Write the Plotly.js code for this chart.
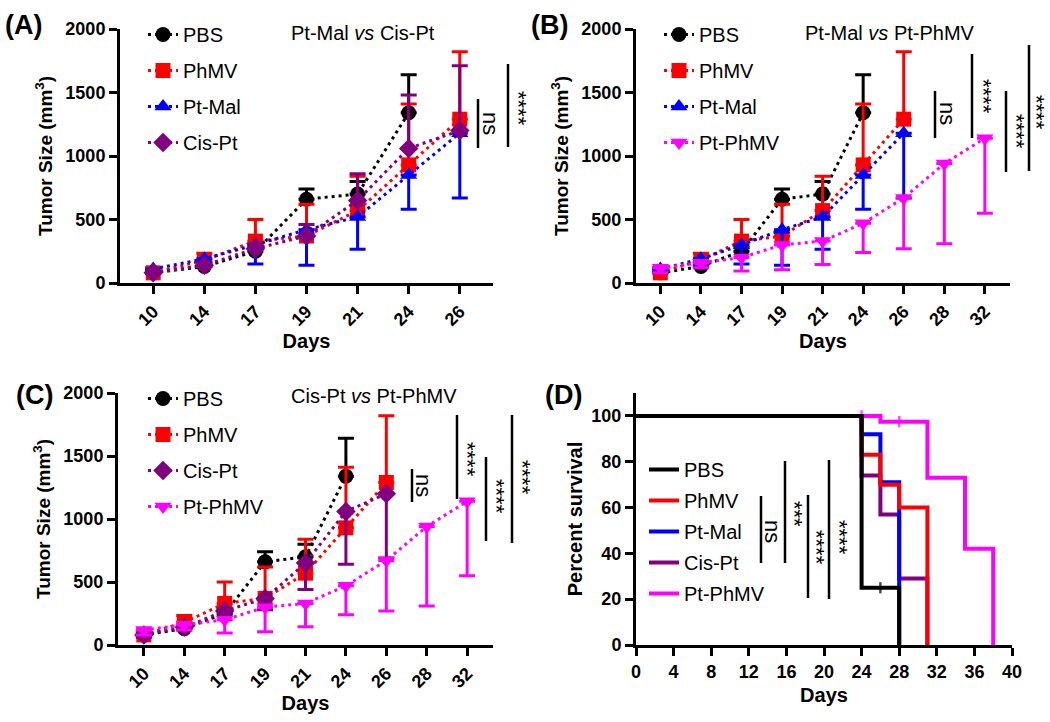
<!DOCTYPE html>
<html><head><meta charset="utf-8">
<script src="https://cdn.plot.ly/plotly-3.0.1.min.js"></script>
<style>html,body{margin:0;padding:0;background:#fff}#chart{width:1050px;height:722px}</style>
</head><body><div id="chart"></div><script>
// ---------- DATA ----------
const days = ['10','14','17','19','21','24','26','28','32'];
const daysA = days.slice(0, 7);

const pbsMean      = [80, 130, 250, 660, 700, 1340];
const pbsErrUp     = [20, 20, 30, 80, 100, 300];
const phmvMean     = [80, 180, 330, 370, 570, 930, 1290];
const phmvErrUp    = [40, 55, 170, 250, 270, 480, 530];
const ptMalMean    = [110, 190, 300, 420, 520, 850, 1180];
const ptMalErrDown = [30, 60, 150, 280, 255, 270, 510];
const cisPtMean    = [80, 140, 270, 370, 650, 1060, 1200];
const cisPtErr     = [20, 20, 40, 90, 210, 420, 510];
const ptPhmvMean   = [120, 160, 200, 300, 330, 470, 670, 940, 1140];
const ptPhmvErrDown= [40, 40, 105, 195, 185, 230, 400, 630, 590];

// Survival (Kaplan-Meier)
const survPbsDays = [0, 24, 26, 28];           const survPbsPct = [100, 25, 25, 0];        const survPbsCens = [0, 0, 1, 0];
const survPhmvDays = [0, 24, 26, 28, 31];      const survPhmvPct = [100, 83, 70, 60, 0];   const survPhmvCens = [0, 0, 0, 0, 0];
const survPtMalDays = [0, 24, 26, 28];         const survPtMalPct = [100, 92, 71, 0];      const survPtMalCens = [0, 0, 0, 0];
const survCisPtDays = [0, 24, 26, 28, 31];     const survCisPtPct = [100, 74, 57, 29, 0];  const survCisPtCens = [0, 0, 0, 0, 0];
const survPtPhmvDays = [0, 24, 26, 28, 31, 35, 38]; const survPtPhmvPct = [100, 100, 97.5, 97.5, 73, 42, 0]; const survPtPhmvCens = [0, 1, 0, 1, 0, 0, 0];

const yTicksGrowth = [0, 500, 1000, 1500, 2000];
const yTicksSurv = [0, 20, 40, 60, 80, 100];

// ---------- STYLE ----------
const W = 1050, H = 722;
const FONT = 'Liberation Sans, Arial, sans-serif';
const C = {pbs:'#000000', phmv:'#ff0000', ptmal:'#0000ff', cis:'#800080', ptphmv:'#ff00ff'};
const zeros = n => new Array(n).fill(0);
const fx = x => x / W, fy = y => 1 - y / H;

function growth(name, y, err, dir, color, symbol, xa, ya, leg, grp) {
  const n = y.length;
  return {
    type: 'scatter', mode: 'lines+markers', name: name,
    x: days.slice(0, n), y: y, xaxis: xa, yaxis: ya,
    legend: leg, legendgroup: grp,
    line: {color: color, width: 3, dash: '3px,4px'},
    marker: {color: color, symbol: symbol, size: 15},
    error_y: {type: 'data', symmetric: false,
      array: dir === 'up' ? err : zeros(n),
      arrayminus: dir === 'down' ? err : zeros(n),
      color: color, thickness: 3, width: 8}
  };
}
function surv(name, x, y, cens, color, rank) {
  return {
    type: 'scatter', mode: 'lines+markers', name: name, x: x, y: y,
    xaxis: 'x4', yaxis: 'y4', legend: 'legend4', legendrank: rank, legendgroup: 'D' + rank,
    line: {color: color, width: 4, shape: 'hv'},
    marker: {symbol: 'line-ns-open', size: cens.map(c => c ? 8 : 0), color: color, line: {color: color, width: 2.5}}
  };
}

const traces = [
  // A
  growth('PBS', pbsMean, pbsErrUp, 'up', C.pbs, 'circle', 'x', 'y', 'legend', 'A1'),
  growth('PhMV', phmvMean, phmvErrUp, 'up', C.phmv, 'square', 'x', 'y', 'legend', 'A2'),
  growth('Pt-Mal', ptMalMean, ptMalErrDown, 'down', C.ptmal, 'triangle-up', 'x', 'y', 'legend', 'A3'),
  growth('Cis-Pt', cisPtMean, cisPtErr, 'up', C.cis, 'diamond', 'x', 'y', 'legend', 'A4'),
  // B
  growth('PBS', pbsMean, pbsErrUp, 'up', C.pbs, 'circle', 'x2', 'y2', 'legend2', 'B1'),
  growth('PhMV', phmvMean, phmvErrUp, 'up', C.phmv, 'square', 'x2', 'y2', 'legend2', 'B2'),
  growth('Pt-Mal', ptMalMean, ptMalErrDown, 'down', C.ptmal, 'triangle-up', 'x2', 'y2', 'legend2', 'B3'),
  growth('Pt-PhMV', ptPhmvMean, ptPhmvErrDown, 'down', C.ptphmv, 'triangle-down', 'x2', 'y2', 'legend2', 'B4'),
  // C
  growth('PBS', pbsMean, pbsErrUp, 'up', C.pbs, 'circle', 'x3', 'y3', 'legend3', 'C1'),
  growth('PhMV', phmvMean, phmvErrUp, 'up', C.phmv, 'square', 'x3', 'y3', 'legend3', 'C2'),
  growth('Cis-Pt', cisPtMean, cisPtErr, 'down', C.cis, 'diamond', 'x3', 'y3', 'legend3', 'C3'),
  growth('Pt-PhMV', ptPhmvMean, ptPhmvErrDown, 'down', C.ptphmv, 'triangle-down', 'x3', 'y3', 'legend3', 'C4'),
  // D (drawn bottom to top)
  surv('Pt-PhMV', survPtPhmvDays, survPtPhmvPct, survPtPhmvCens, C.ptphmv, 5),
  surv('Cis-Pt', survCisPtDays, survCisPtPct, survCisPtCens, C.cis, 4),
  surv('Pt-Mal', survPtMalDays, survPtMalPct, survPtMalCens, C.ptmal, 3),
  surv('PhMV', survPhmvDays, survPhmvPct, survPhmvCens, C.phmv, 2),
  surv('PBS', survPbsDays, survPbsPct, survPbsCens, C.pbs, 1)
];

const tickFont = {family: FONT, size: 18, color: '#000', weight: 'bold'};
const titleFont = {family: FONT, size: 20, color: '#000', weight: 'bold'};
function xCat(domain, anchor, cats, range) {
  return {domain: domain, anchor: anchor, type: 'category', categoryorder: 'array', categoryarray: cats,
    range: range, showline: true, linewidth: 3, linecolor: '#000', ticks: 'outside', ticklen: 8, tickwidth: 3,
    tickcolor: '#000', tickangle: -45, tickfont: tickFont, showgrid: false, zeroline: false,
    title: {text: 'Days', font: titleFont, standoff: 6}};
}
function yLin(domain, anchor, range, tv, title, standoff) {
  return {domain: domain, anchor: anchor, range: range, tickvals: tv, showline: true, linewidth: 3, linecolor: '#000',
    ticks: 'outside', ticklen: 8, tickwidth: 3, tickcolor: '#000', tickfont: tickFont, showgrid: false, zeroline: false,
    title: {text: title, font: {family: FONT, size: 19, color: '#000', weight: 'bold'}, standoff: standoff}};
}
const yTitleG = 'Tumor Size (mm<sup>3</sup>)';
const topDom = [fy(283), fy(29)], botDom = [fy(645), fy(393)];

function legendAt(x, y, gap) {
  return {x: fx(x), y: fy(y), xanchor: 'left', yanchor: 'top', bgcolor: 'rgba(0,0,0,0)', borderwidth: 0,
    font: {family: FONT, size: 20, color: '#000'}, tracegroupgap: gap, traceorder: 'grouped', itemwidth: 30};
}

const shapes = [];
function bar(x, y0, y1) { shapes.push({type: 'line', xref: 'paper', yref: 'paper', x0: fx(x), x1: fx(x), y0: fy(y0), y1: fy(y1), line: {color: '#000', width: 2.5}}); }
const ann = [];
function txt(text, x, y, size, opts) {
  ann.push(Object.assign({text: text, x: fx(x), y: fy(y), xref: 'paper', yref: 'paper', showarrow: false,
    xanchor: 'center', yanchor: 'middle', font: {family: FONT, size: size, color: '#000'}}, opts || {}));
}
function sig(text, x, y) { txt(text, x, y, text === 'ns' ? 22 : 22, {textangle: 90}); }

// panel letters
const letterFont = {family: FONT, size: 27, color: '#000', weight: 'bold'};
txt('(A)', 23, 25, 27, {font: letterFont});
txt('(B)', 549, 25, 27, {font: letterFont});
txt('(C)', 34, 395, 27, {font: letterFont});
txt('(D)', 563, 395, 27, {font: letterFont});
// comparison titles
txt('Pt-Mal <i>vs</i> Cis-Pt', 363, 33, 20);
txt('Pt-Mal <i>vs</i> Pt-PhMV', 890, 33, 20);
txt('Cis-Pt <i>vs</i> Pt-PhMV', 374, 396, 20);

// significance brackets
bar(478, 99, 148); sig('ns', 491, 123);
bar(508, 64, 147); sig('****', 519, 108);

bar(935, 91, 138); sig('ns', 947, 113);
bar(972, 54, 138); sig('****', 984, 96);
bar(1006, 91, 172); sig('****', 1016, 131);
bar(1029, 45, 171); sig('****', 1036, 112);

bar(412, 469, 502); sig('ns', 424, 485);
bar(457, 415, 499); sig('****', 468, 459);
bar(486, 457, 541); sig('****', 497, 496);
bar(512, 415, 543); sig('****', 523, 477);

bar(761, 496, 563); sig('ns', 773, 531);
bar(785, 461, 563); sig('***', 795, 514);
bar(808, 495, 598); sig('****', 817, 547);
bar(829, 460, 599); sig('****', 840, 537);

const layout = {
  width: W, height: H, margin: {l: 0, r: 0, t: 0, b: 0}, paper_bgcolor: '#fff', plot_bgcolor: 'rgba(0,0,0,0)',
  font: {family: FONT, color: '#000'}, showlegend: true,
  xaxis: xCat([fx(120), fx(493)], 'y', daysA, [-0.65, 6.65]),
  yaxis: yLin(topDom, 'x', [0, 2000], yTicksGrowth, yTitleG, 8),
  xaxis2: xCat([fx(636), fx(1010)], 'y2', days, [-0.6, 8.62]),
  yaxis2: yLin(topDom, 'x2', [0, 2000], yTicksGrowth, yTitleG, 8),
  xaxis3: xCat([fx(118), fx(493)], 'y3', days, [-0.64, 8.64]),
  yaxis3: yLin(botDom, 'x3', [0, 2000], yTicksGrowth, yTitleG, 8),
  xaxis4: {domain: [fx(636), fx(1012)], anchor: 'y4', range: [0, 40], tick0: 0, dtick: 4, showline: true, linewidth: 3,
    linecolor: '#000', ticks: 'outside', ticklen: 8, tickwidth: 3, tickcolor: '#000', tickfont: tickFont, showgrid: false,
    zeroline: false, title: {text: 'Days', font: titleFont, standoff: 8}},
  yaxis4: Object.assign(yLin(botDom, 'x4', [0, 110], yTicksSurv, 'Percent survival', 4), {title: {text: 'Percent survival', font: titleFont, standoff: 4}}),
  legend: legendAt(143, 15, 7),
  legend2: legendAt(659, 15, 7),
  legend3: legendAt(143, 379, 7),
  legend4: legendAt(644, 450, 2),
  shapes: shapes, annotations: ann
};

Plotly.newPlot('chart', traces, layout, {staticPlot: true, displayModeBar: false});
</script></body></html>
